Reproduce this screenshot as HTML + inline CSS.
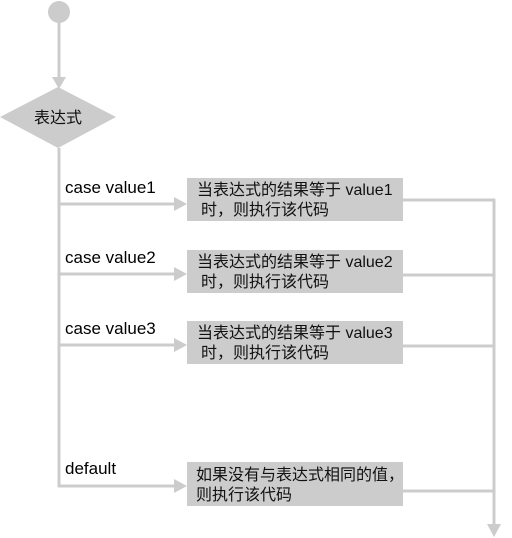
<!DOCTYPE html>
<html><head><meta charset="utf-8"><style>
body{margin:0;background:#fff;width:512px;height:538px;overflow:hidden}
svg{display:block}
text{font-family:"Liberation Sans","Noto Sans CJK SC",sans-serif;font-size:16px;fill:#111}
.l{font-size:17px;fill:#000}
</style></head><body>
<svg width="512" height="538" viewBox="0 0 512 538">
<g fill="#ccc" stroke="none">
<circle cx="59" cy="12" r="11"/>
<polygon points="0,117 58,87 116,117 58,148"/>
<rect x="187" y="178" width="216" height="43"/>
<rect x="187" y="250" width="216" height="43"/>
<rect x="187" y="321" width="216" height="43"/>
<rect x="187" y="462" width="216" height="44"/>
<polygon points="52,77 66,77 59,89"/>
<polygon points="174,197 187,204 174,211"/>
<polygon points="174,267 187,274 174,281"/>
<polygon points="174,338 187,345 174,352"/>
<polygon points="174,479 187,486 174,493"/>
<polygon points="487,524 501,524 494,537"/>
</g>
<g stroke="#ccc" stroke-width="3" fill="none">
<line x1="59" y1="22" x2="59" y2="80"/>
<line x1="59" y1="148" x2="59" y2="487"/>
<line x1="59" y1="204" x2="176" y2="204"/>
<line x1="59" y1="274" x2="176" y2="274"/>
<line x1="59" y1="345" x2="176" y2="345"/>
<line x1="58" y1="486" x2="176" y2="486"/>
<line x1="403" y1="200" x2="495" y2="200"/>
<line x1="403" y1="275" x2="494" y2="275"/>
<line x1="403" y1="346" x2="494" y2="346"/>
<line x1="403" y1="491" x2="494" y2="491"/>
<line x1="494" y1="199" x2="494" y2="526"/>
</g>
<text x="34" y="123">表达式</text>
<text class="l" x="65" y="193">case value1</text>
<text class="l" x="65" y="263">case value2</text>
<text class="l" x="65" y="334">case value3</text>
<text class="l" x="65" y="474">default</text>
<text x="197" y="195">当表达式的结果等于 value1</text>
<text x="201" y="215">时，则执行该代码</text>
<text x="197" y="267">当表达式的结果等于 value2</text>
<text x="201" y="287">时，则执行该代码</text>
<text x="197" y="338">当表达式的结果等于 value3</text>
<text x="201" y="358">时，则执行该代码</text>
<text x="196" y="480">如果没有与表达式相同的值，</text>
<text x="196" y="500">则执行该代码</text>
</svg>
</body></html>
